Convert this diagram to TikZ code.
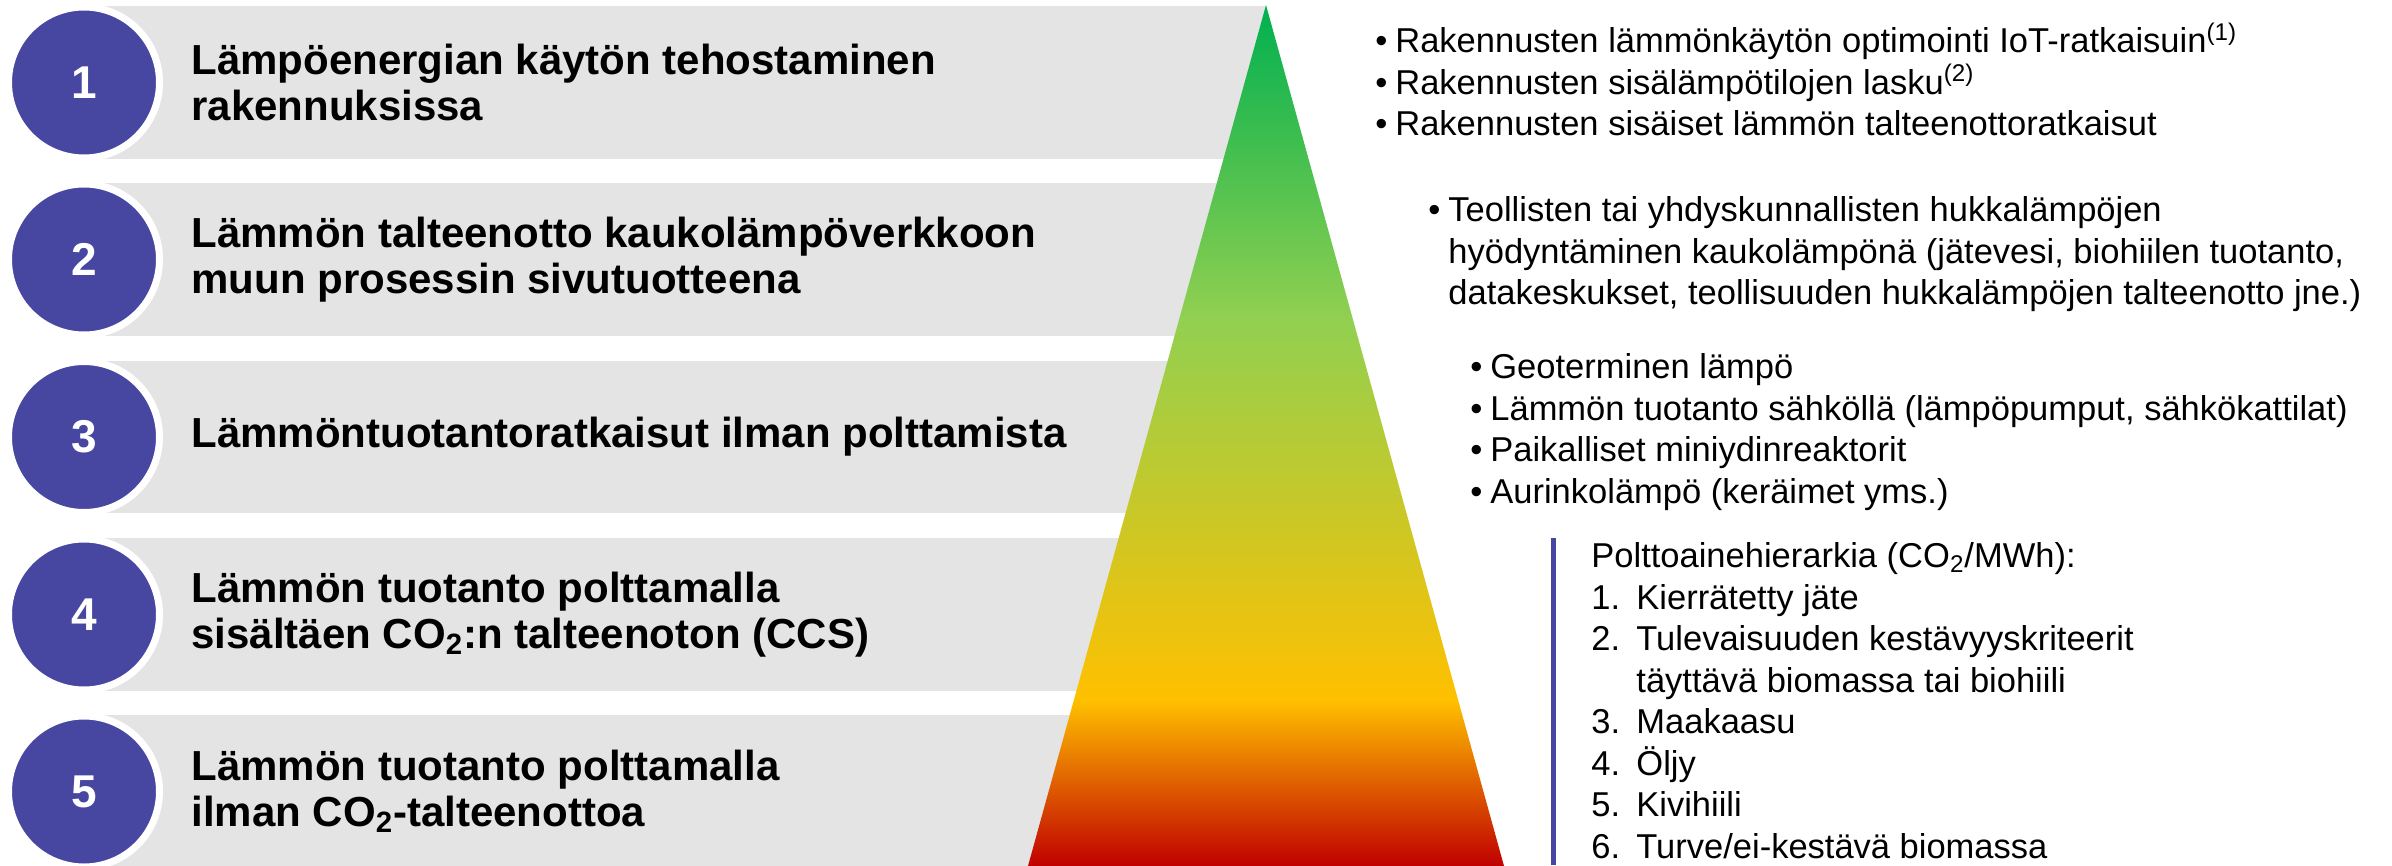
\documentclass[tikz,border=0pt]{standalone}
\usepackage{fontspec}
\setmainfont{Liberation Sans}
\definecolor{stepblue}{RGB}{71,71,161}
\definecolor{bargray}{RGB}{228,228,228}
\definecolor{heatgreen}{RGB}{0,176,80}
\definecolor{heatlime}{RGB}{146,208,80}
\definecolor{heatyellow}{RGB}{255,192,0}
\definecolor{heatred}{RGB}{192,0,0}
\pgfdeclareverticalshading{heatramp}{100bp}{color(0bp)=(heatred); color(25bp)=(heatred); color(34.65bp)=(heatyellow); color(56.7bp)=(heatlime); color(75bp)=(heatgreen); color(100bp)=(heatgreen)}
\newcommand{\bul}{\leavevmode\llap{\textbullet\hspace{4pt}}}
\newcommand{\nr}[1]{\makebox[22.5pt][l]{#1}}
\tikzset{
  bar/.style={fill=bargray},
  stepnum/.style={circle, fill=stepblue, draw=white, line width=3.5pt, minimum size=75.5pt, inner sep=0pt, text=white, font=\fontsize{23pt}{23pt}\selectfont\bfseries},
  bartext/.style={anchor=west, inner sep=0pt, align=left, font=\fontsize{21pt}{23pt}\selectfont\bfseries},
  listtext/.style={anchor=base west, inner sep=0pt, align=left, font=\fontsize{17.25pt}{20.75pt}\selectfont},
  fuelrule/.style={draw=stepblue, line width=2.5pt}
}
\begin{document}
\begin{tikzpicture}[x=0.5pt,y=-0.5pt]
\useasboundingbox (0,0) rectangle (2392,866);
\fill[bar] (84,6) rectangle (1266,159);
\fill[bar] (84,183) rectangle (1266,336);
\fill[bar] (84,361) rectangle (1266,513);
\fill[bar] (84,538) rectangle (1266,691);
\fill[bar] (84,715) rectangle (1266,868);
\shade[shading=heatramp] (1266,5) -- (1504,866) -- (1028,866) -- cycle;
\node[stepnum] (step1) at (84,82.5) {1};
\node[stepnum] (step2) at (84,259.5) {2};
\node[stepnum] (step3) at (84,437) {3};
\node[stepnum] (step4) at (84,614.5) {4};
\node[stepnum] (step5) at (84,791.5) {5};
\node[bartext] (task1) at (191,82.5) {Lämpöenergian käytön tehostaminen\\rakennuksissa};
\node[bartext] (task2) at (191,259.5) {Lämmön talteenotto kaukolämpöverkkoon\\muun prosessin sivutuotteena};
\node[bartext] (task3) at (191,437) {Lämmöntuotantoratkaisut ilman polttamista};
\node[bartext] (task4) at (191,614.5) {Lämmön tuotanto polttamalla\\sisältäen CO\textsubscript{2}:n talteenoton (CCS)};
\node[bartext] (task5) at (191,791.5) {Lämmön tuotanto polttamalla\\ilman CO\textsubscript{2}-talteenottoa};
\node[listtext] (bldg) at (1395,136) {\bul Rakennusten lämmönkäytön optimointi IoT-ratkaisuin\textsuperscript{(1)}\\
\bul Rakennusten sisälämpötilojen lasku\textsuperscript{(2)}\\
\bul Rakennusten sisäiset lämmön talteenottoratkaisut};
\node[listtext] (waste) at (1448,305) {\bul Teollisten tai yhdyskunnallisten hukkalämpöjen\\
hyödyntäminen kaukolämpönä (jätevesi, biohiilen tuotanto,\\
datakeskukset, teollisuuden hukkalämpöjen talteenotto jne.)};
\node[listtext] (noburn) at (1490,503) {\bul Geoterminen lämpö\\
\bul Lämmön tuotanto sähköllä (lämpöpumput, sähkökattilat)\\
\bul Paikalliset miniydinreaktorit\\
\bul Aurinkolämpö (keräimet yms.)};
\coordinate (ruletop) at (1553,538);
\coordinate (rulebot) at (1553,865);
\draw[fuelrule] (ruletop) -- (rulebot);
\node[listtext] (fuels) at (1591,858) {Polttoainehierarkia (CO\textsubscript{2}/MWh):\\
\nr{1.}Kierrätetty jäte\\
\nr{2.}Tulevaisuuden kestävyyskriteerit\\
\nr{}täyttävä biomassa tai biohiili\\
\nr{3.}Maakaasu\\
\nr{4.}Öljy\\
\nr{5.}Kivihiili\\
\nr{6.}Turve/ei-kestävä biomassa};
\end{tikzpicture}
\end{document}
